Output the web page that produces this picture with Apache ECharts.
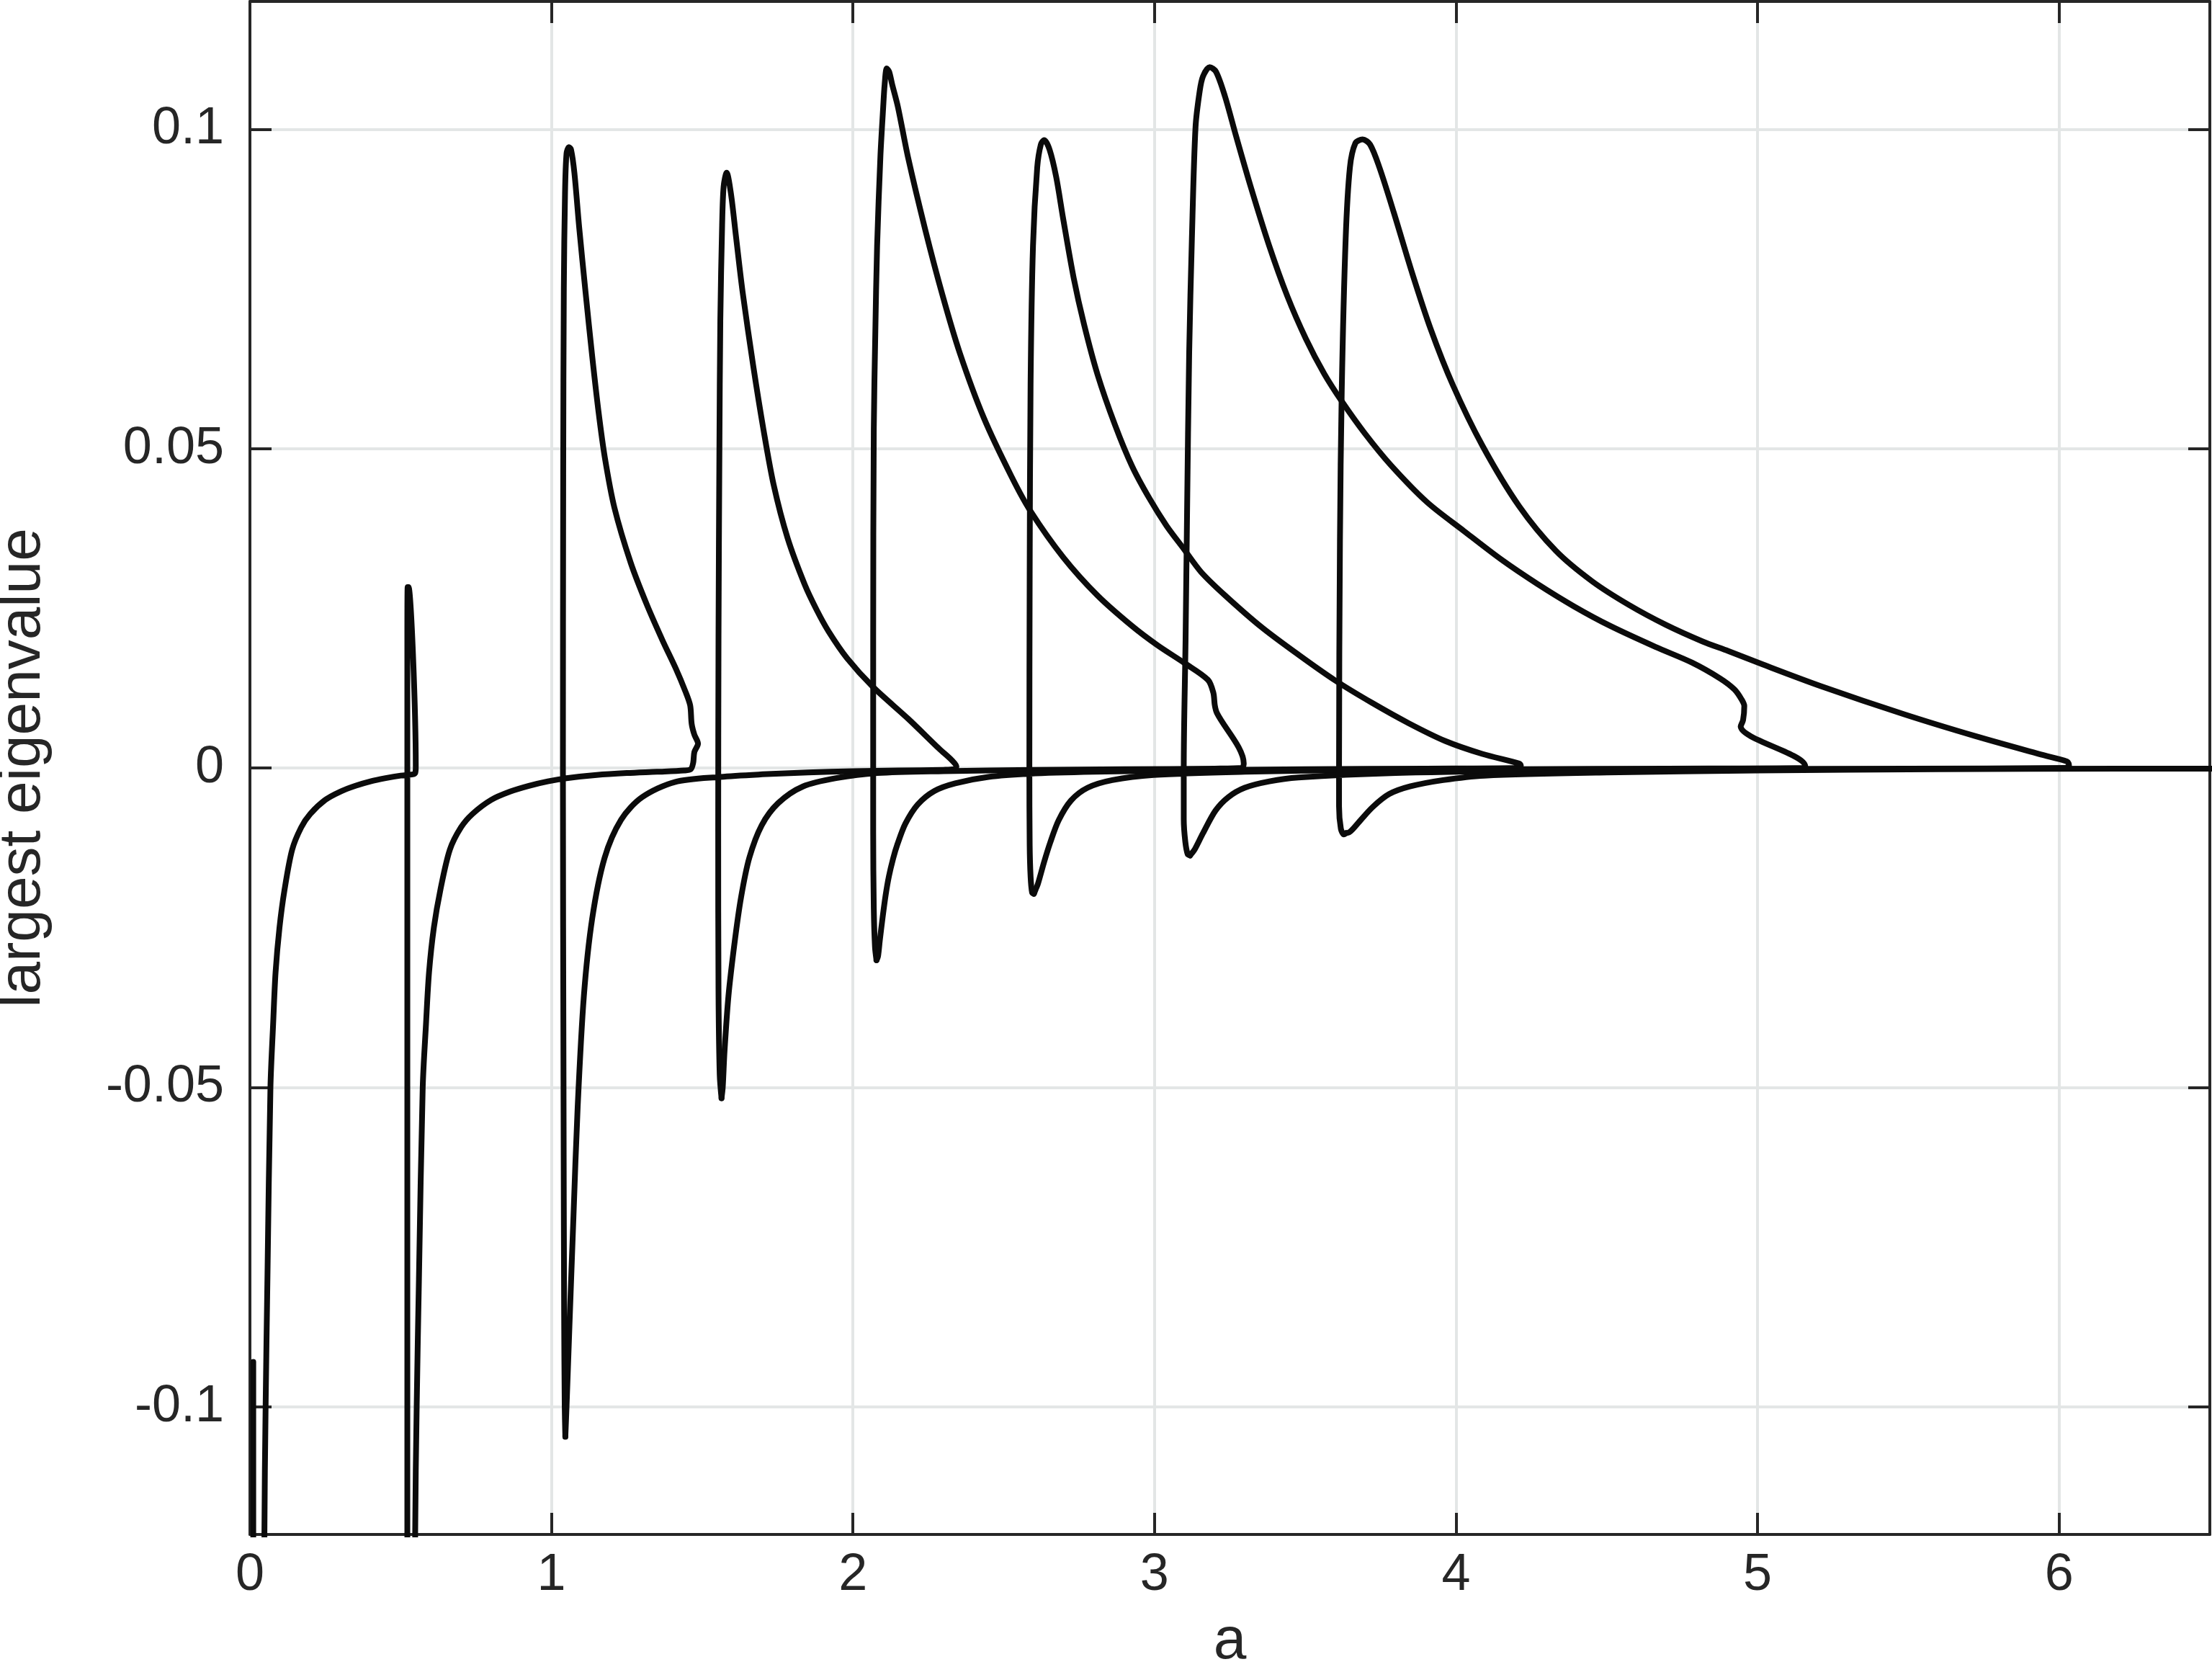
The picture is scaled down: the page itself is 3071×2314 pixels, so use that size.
<!DOCTYPE html>
<html>
<head>
<meta charset="utf-8">
<script src="https://cdn.jsdelivr.net/npm/echarts@6/dist/echarts.min.js"></script>
<style>
html,body{margin:0;padding:0;background:#fff;}
#chart{width:3071px;height:2314px;}
</style>
</head>
<body>
<div id="chart"></div>
<script>
// ---- axis ticks ----
const xTicks = [0, 1, 2, 3, 4, 5, 6];
const xTickLabels = ['0', '1', '2', '3', '4', '5', '6'];
const yTicks = [-0.1, -0.05, 0, 0.05, 0.1];
const yTickLabels = ['-0.1', '-0.05', '0', '0.05', '0.1'];

// ---- curve pieces [a, largest eigenvalue] ----
const branchStart = [[0.011,-0.093],[0.011,-0.2]];

const branch0 = [[0.047,-0.2],[0.048,-0.12],[0.052,-0.10],[0.058,-0.08],[0.068,-0.05],[0.077,-0.04],[0.085,-0.032],
  [0.098,-0.025],[0.115,-0.019],[0.14,-0.0128],[0.17,-0.0093],[0.2,-0.0072],[0.25,-0.005],[0.3,-0.0037],[0.35,-0.0028],
  [0.4,-0.0021],[0.45,-0.0016],[0.5,-0.0012],[0.54,-0.001],[0.548,-0.0008],[0.550,0.0002],[0.526,0.0283],[0.523,0.0283],
  [0.522,0.02],[0.522,-0.2]];

const branch1 = [[0.546,-0.2],[0.548,-0.12],[0.553,-0.10],[0.5605,-0.08],[0.573,-0.05],[0.584,-0.04],[0.594,-0.032],
  [0.61,-0.025],[0.632,-0.019],[0.663,-0.0128],[0.70,-0.0093],[0.738,-0.0072],[0.80,-0.005],[0.863,-0.0037],[0.925,-0.0028],
  [0.988,-0.0021],[1.05,-0.0016],[1.15,-0.0011],[1.25,-0.0008],[1.35,-0.0006],[1.44,-0.0004],[1.462,-0.0002],[1.47,0.0008],
  [1.474,0.0025],[1.486,0.0038],[1.474,0.0052],[1.465,0.0069],[1.460,0.0098],[1.444,0.012],[1.412,0.0156],[1.369,0.0199],
  [1.316,0.0256],[1.263,0.0321],[1.209,0.0407],[1.177,0.0486],[1.156,0.0558],[1.135,0.0645],[1.113,0.0745],[1.092,0.0846],
  [1.076,0.0932],[1.065,0.0968],[1.058,0.0972],[1.050,0.0962],[1.045,0.090],[1.041,0.075],[1.039,0.046],[1.038,0.0],
  [1.040,-0.05],[1.042,-0.085],[1.044,-0.100],[1.046,-0.1047]];

const branch2 = [[1.046,-0.1047],[1.050,-0.1],[1.0595,-0.0875],[1.073,-0.0702],[1.087,-0.053],[1.1075,-0.0357],[1.135,-0.0236],
  [1.176,-0.0141],[1.231,-0.0081],[1.30,-0.0046],[1.409,-0.0022],[1.56,-0.0014],[1.7,-0.001],[1.85,-0.0007],[2.0,-0.0005],
  [2.15,-0.0004],[2.3,-0.0003],[2.335,-0.0002],[2.343,0.0002],[2.33,0.0011],[2.286,0.0030],[2.183,0.0077],[2.066,0.0127],
  [1.98,0.0172],[1.92,0.0213],[1.88,0.0247],[1.840,0.0287],[1.783,0.036],[1.737,0.0443],[1.703,0.053],[1.669,0.063],
  [1.634,0.0745],[1.612,0.0832],[1.595,0.090],[1.581,0.0932],[1.571,0.091],[1.566,0.085],[1.560,0.07],[1.557,0.05],
  [1.554,0.02],[1.553,-0.01],[1.554,-0.035],[1.558,-0.048],[1.564,-0.0517]];

const branch3 = [[1.564,-0.0517],[1.568,-0.05],[1.574,-0.0443],[1.587,-0.0357],[1.608,-0.0271],[1.629,-0.0202],[1.656,-0.0141],
  [1.697,-0.009],[1.752,-0.0055],[1.834,-0.0029],[1.944,-0.0016],[2.081,-0.0008],[2.3,-0.0005],[2.6,-0.0003],[2.9,-0.0002],
  [3.2,-0.0001],[3.29,0.0],[3.296,0.0007],[3.207,0.0086],[3.200,0.0098],[3.195,0.0118],[3.177,0.0138],[3.1,0.0164],
  [3.01,0.0192],[2.926,0.0222],[2.811,0.027],[2.697,0.033],[2.589,0.0402],[2.526,0.0456],[2.434,0.0548],[2.354,0.065],
  [2.297,0.0740],[2.240,0.0842],[2.183,0.0955],[2.149,0.1035],[2.13,0.107],[2.12,0.109],[2.112,0.1095],[2.105,0.107],
  [2.10,0.1033],[2.091,0.0958],[2.080,0.0817],[2.074,0.068],[2.069,0.053],[2.067,0.02],[2.067,-0.01],[2.069,-0.022],
  [2.073,-0.028],[2.078,-0.0301]];

const branch4 = [[2.078,-0.0301],[2.083,-0.0295],[2.089,-0.027],[2.098,-0.0235],[2.108,-0.0200],[2.119,-0.0170],[2.133,-0.0142],
  [2.147,-0.0120],[2.174,-0.0087],[2.215,-0.0057],[2.27,-0.0036],[2.339,-0.0024],[2.449,-0.0014],[2.586,-0.0009],[2.8,-0.0006],
  [3.1,-0.0004],[3.5,-0.0002],[3.9,-0.0001],[4.2,0.0],[4.215,0.0004],[4.209,0.0007],[4.087,0.0022],[3.965,0.0042],
  [3.843,0.007],[3.721,0.0102],[3.599,0.0137],[3.478,0.0177],[3.356,0.022],[3.232,0.0271],[3.154,0.0307],[3.097,0.0343],
  [3.040,0.0379],[2.983,0.0422],[2.926,0.0472],[2.869,0.0537],[2.811,0.0616],[2.766,0.0695],[2.732,0.0767],[2.697,0.086],
  [2.674,0.0925],[2.652,0.0968],[2.634,0.0983],[2.623,0.0976],[2.611,0.094],[2.597,0.0817],[2.589,0.0601],[2.586,0.03],
  [2.585,0.0],[2.586,-0.012],[2.589,-0.017],[2.594,-0.0195],[2.600,-0.0197]];

const branch5 = [[2.600,-0.0197],[2.606,-0.019],[2.613,-0.0182],[2.634,-0.0147],[2.654,-0.0117],[2.682,-0.0082],[2.723,-0.0051],
  [2.778,-0.0031],[2.86,-0.0019],[2.997,-0.0011],[3.3,-0.0006],[3.7,-0.0003],[4.2,-0.0002],[4.7,-0.0001],[5.15,0.0],
  [5.158,0.0003],[4.944,0.0065],[4.952,0.0075],[4.956,0.0097],[4.946,0.0108],[4.923,0.0123],[4.876,0.0140],[4.782,0.0165],
  [4.664,0.0189],[4.513,0.0222],[4.391,0.0253],[4.270,0.0288],[4.148,0.0327],[4.026,0.0371],[3.904,0.0416],[3.782,0.0475],
  [3.697,0.0524],[3.624,0.0572],[3.563,0.0617],[3.502,0.0672],[3.441,0.0738],[3.380,0.0818],[3.319,0.0910],[3.270,0.0990],
  [3.234,0.1051],[3.204,0.109],[3.183,0.1097],[3.161,0.1083],[3.15,0.106],[3.136,0.1003],[3.124,0.0829],[3.115,0.065],
  [3.108,0.04],[3.103,0.02],[3.097,0.0],[3.097,-0.008],[3.102,-0.0115],[3.110,-0.0135],[3.118,-0.0137]];

const branch6 = [[3.118,-0.0137],[3.125,-0.0133],[3.134,-0.0127],[3.161,-0.0102],[3.202,-0.0067],[3.244,-0.0046],[3.299,-0.0031],
  [3.381,-0.0021],[3.477,-0.0015],[3.8,-0.0008],[4.3,-0.0004],[4.9,-0.0002],[5.5,-0.0001],[6.02,0.0],[6.033,0.0004],
  [6.027,0.0010],[5.94,0.0021],[5.721,0.0050],[5.486,0.0084],[5.21,0.0128],[5.017,0.0162],[4.903,0.0183],[4.818,0.0198],
  [4.696,0.0224],[4.574,0.0255],[4.452,0.0292],[4.331,0.0340],[4.209,0.041],[4.087,0.0505],[3.989,0.06],[3.916,0.0687],
  [3.855,0.0774],[3.794,0.0869],[3.746,0.094],[3.715,0.0976],[3.690,0.0984],[3.666,0.0978],[3.648,0.094],[3.634,0.0829],
  [3.621,0.0592],[3.615,0.0355],[3.612,0.0],[3.612,-0.006],[3.618,-0.0095],[3.628,-0.0104],[3.635,-0.0102]];

const branch7 = [[3.635,-0.0102],[3.645,-0.0101],[3.655,-0.0097],[3.683,-0.0082],[3.724,-0.0061],[3.778,-0.0041],[3.847,-0.0029],
  [3.957,-0.0019],[4.094,-0.0012],[4.5,-0.0007],[5.0,-0.0004],[5.6,-0.0002],[6.2,-0.0001],[6.6,-0.0001]];

const branches = [branchStart, branch0, branch1, branch2, branch3, branch4, branch5, branch6, branch7];

// ---- chart ----
const chart = echarts.init(document.getElementById('chart'), null, {renderer: 'canvas'});
const axisColor = '#262626';
const gridColor = '#e3e6e6';
const fontFam = '"Liberation Sans", Arial, Helvetica, sans-serif';

function xLabel(v) { const i = xTicks.indexOf(Math.round(v * 1000) / 1000); return i >= 0 ? xTickLabels[i] : ''; }
function yLabel(v) { const r = Math.round(v * 10000) / 10000; const i = yTicks.findIndex(t => Math.abs(t - r) < 1e-9); return i >= 0 ? yTickLabels[i] : ''; }

const commonX = {
  type: 'value', min: 0, max: 6.5,
  axisLine: {show: true, onZero: false, lineStyle: {color: axisColor, width: 4}},
  axisTick: {show: true, inside: true, length: 30, customValues: xTicks, lineStyle: {color: axisColor, width: 4}},
  splitLine: {show: false}
};
const commonY = {
  type: 'value', min: -0.12, max: 0.12,
  axisLine: {show: true, onZero: false, lineStyle: {color: axisColor, width: 4}},
  axisTick: {show: true, inside: true, length: 30, customValues: yTicks, lineStyle: {color: axisColor, width: 4}},
  splitLine: {show: false}
};

const option = {
  animation: false,
  backgroundColor: '#ffffff',
  grid: {left: 347, top: 2, width: 2721, height: 2128, containLabel: false, outerBoundsMode: 'none'},
  xAxis: [
    Object.assign({}, commonX, {
      position: 'bottom',
      name: 'a', nameLocation: 'middle', nameGap: 108,
      nameTextStyle: {fontSize: 82, color: axisColor, fontFamily: fontFam},
      axisLabel: {show: true, customValues: xTicks, formatter: xLabel, margin: 21, fontSize: 72, color: axisColor, fontFamily: fontFam},
      splitLine: {show: true, lineStyle: {color: gridColor, width: 4}}
    }),
    Object.assign({}, commonX, {position: 'top', axisLabel: {show: false}})
  ],
  yAxis: [
    Object.assign({}, commonY, {
      position: 'left',
      name: 'largest eigenvalue', nameLocation: 'middle', nameGap: 274,
      nameTextStyle: {fontSize: 82, color: axisColor, fontFamily: fontFam},
      axisLabel: {show: true, customValues: yTicks, formatter: yLabel, margin: 36, fontSize: 72, color: axisColor, fontFamily: fontFam},
      splitLine: {show: true, lineStyle: {color: gridColor, width: 4}}
    }),
    Object.assign({}, commonY, {position: 'right', axisLabel: {show: false}})
  ],
  series: branches.map((d, i) => ({
    type: 'line', name: 'branch' + i, data: d, xAxisIndex: 0, yAxisIndex: 0,
    showSymbol: false, symbol: 'none', smooth: 0.3, clip: true,
    lineStyle: {color: '#0b0b0b', width: 8, cap: 'round', join: 'round'},
    z: 5
  }))
};
chart.setOption(option);
</script>
</body>
</html>
